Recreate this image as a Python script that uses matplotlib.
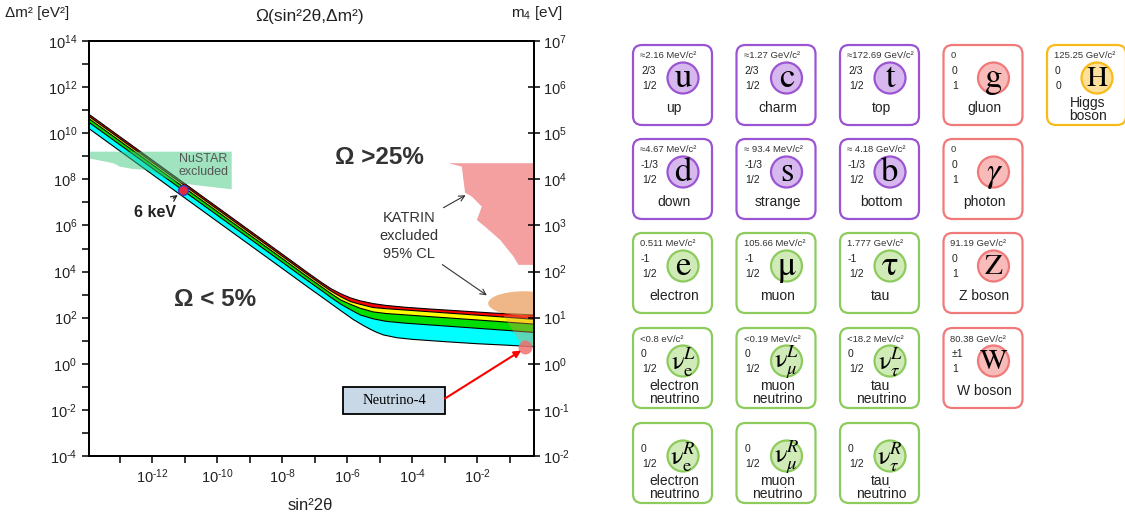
import numpy as np
import matplotlib
matplotlib.use("Agg")
import matplotlib.pyplot as plt
from matplotlib.patches import Polygon, Ellipse, FancyBboxPatch, Circle, Rectangle

plt.rcParams['font.family'] = ['Liberation Sans', 'DejaVu Sans']
plt.rcParams['mathtext.fontset'] = 'custom'
plt.rcParams['mathtext.rm'] = 'Liberation Sans'
plt.rcParams['mathtext.it'] = 'Liberation Sans:italic'
plt.rcParams['mathtext.bf'] = 'Liberation Sans:bold'
plt.rcParams['axes.unicode_minus'] = False

# ---------------------------------------------------------------------------
# Omega contours: log10(sin^2 2theta) vs log10(dm^2 / eV^2)
# ---------------------------------------------------------------------------
omega_x = [-13.94, -10.0, -8.0, -7.2, -6.8, -6.5, -6.2, -5.9, -5.6, -5.2,
           -4.8, -4.2, -3.5, -2.5, -1.5, -0.25]
omega25_y = [10.82, 6.80, 4.76, 3.94, 3.54, 3.26, 3.04, 2.86, 2.73, 2.61,
             2.53, 2.45, 2.38, 2.29, 2.20, 2.12]
omega20_y = [10.73, 6.71, 4.67, 3.85, 3.45, 3.16, 2.91, 2.70, 2.58, 2.44,
             2.39, 2.33, 2.26, 2.16, 2.06, 1.93]
omega15_y = [10.63, 6.61, 4.57, 3.75, 3.35, 3.05, 2.77, 2.58, 2.41, 2.25,
             2.18, 2.12, 2.05, 1.95, 1.85, 1.72]
omega10_y = [10.47, 6.45, 4.41, 3.59, 3.19, 2.88, 2.59, 2.35, 2.12, 1.95,
             1.84, 1.76, 1.69, 1.59, 1.49, 1.36]
omega05_x = [-13.94, -10.0, -8.0, -7.2, -6.83, -6.3, -5.81, -5.5, -5.29, -5.1,
             -4.88, -4.47, -4.0, -3.0, -2.0, -1.0, -0.25]
omega05_y = [10.20, 6.18, 4.14, 3.32, 2.95, 2.41, 1.92, 1.66, 1.50, 1.37,
             1.25, 1.13, 1.06, 0.96, 0.87, 0.80, 0.74]

# NuSTAR excluded region
nustar_x = [-13.94, -9.55, -9.55, -10.12, -11.14, -11.65, -12.17, -12.6,
            -12.99, -13.19, -13.94]
nustar_y = [9.20, 9.20, 7.57, 7.66, 7.83, 8.09, 8.41, 8.45, 8.55, 8.70, 8.91]

# KATRIN excluded region (95% CL)
katrin_x = [-2.88, -0.2, -0.2, -0.73, -0.88, -1.29, -1.70, -2.01, -1.91,
            -1.86, -2.16, -2.37, -2.44, -2.47]
katrin_y = [8.70, 8.70, 4.29, 4.29, 4.65, 5.37, 5.88, 6.24, 6.60, 6.82,
            7.25, 7.42, 8.19, 8.55]

# allowed region near the right edge (ellipse + tail)
allowed_center = (-0.56, 2.62)
allowed_size = (2.2, 1.05)
tail_x = [-1.20, -0.2, -0.2, -0.62]
tail_y = [2.10, 2.10, 0.73, 0.80]

# Neutrino-4 best fit and 6 keV point
nu4_point = (-0.52, 0.72)
kev6_sin = -11.04
kev6_mass_ev = 6000.0

xlog_lim = (-13.94, -0.25)
ylog_lim = (-4, 14)


def lin(v):
    return 10.0 ** np.asarray(v, dtype=float)


def pow10_label(k):
    exp = str(k) if k >= 0 else r'\text{-}%d' % (-k)
    return r'$\mathdefault{10^{%s}}$' % exp


fig = plt.figure(figsize=(11.25, 5.17), dpi=100)
W, H = 1125.0, 517.0
ax = fig.add_axes([89 / W, 61 / H, 445 / W, 415 / H])
ax.set_xscale('log')
ax.set_yscale('log')
ax.set_xlim(lin(xlog_lim[0]), lin(xlog_lim[1]))
ax.set_ylim(lin(ylog_lim[0]), lin(ylog_lim[1]))

contours = [(omega_x, omega25_y), (omega_x, omega20_y), (omega_x, omega15_y),
            (omega_x, omega10_y), (omega05_x, omega05_y)]
band_colors = ['#ff0000', '#ffff00', '#00dd00', '#00ffff']
for i, col in enumerate(band_colors):
    xa, ya = contours[i]
    xb, yb = contours[i + 1]
    px = np.concatenate([lin(xa), lin(xb)[::-1]])
    py = np.concatenate([lin(ya), lin(yb)[::-1]])
    ax.fill(px, py, color=col, lw=0, zorder=2)
for xs, ys in contours:
    ax.plot(lin(xs), lin(ys), color='k', lw=0.8, zorder=3)

ax.add_patch(Polygon(np.column_stack([lin(nustar_x), lin(nustar_y)]),
                     closed=True, facecolor='#40c880', alpha=0.5, lw=0, zorder=4))
ax.add_patch(Polygon(np.column_stack([lin(katrin_x), lin(katrin_y)]),
                     closed=True, facecolor='#f4a0a0', lw=0, zorder=4))

# ellipse drawn in axes fraction so it stays elliptic on log axes
spanx = xlog_lim[1] - xlog_lim[0]
spany = ylog_lim[1] - ylog_lim[0]
ecx = (allowed_center[0] - xlog_lim[0]) / spanx
ecy = (allowed_center[1] - ylog_lim[0]) / spany
ax.add_patch(Ellipse((ecx, ecy), allowed_size[0] / spanx, allowed_size[1] / spany,
                     transform=ax.transAxes, facecolor='#e89650', alpha=0.68,
                     lw=0, zorder=5))
ax.add_patch(Polygon(np.column_stack([lin(tail_x), lin(tail_y)]), closed=True,
                     facecolor='#e89650', alpha=0.4, lw=0, zorder=5))
ax.plot([lin(nu4_point[0])], [lin(nu4_point[1])], 'o', ms=10, color='#f07070',
        alpha=0.85, mec='none', zorder=6)

# 6 keV sterile neutrino
ax.plot([lin(kev6_sin)], [kev6_mass_ev ** 2], 'o', ms=7, mfc='#e8283c',
        mec='#3040c0', mew=1.0, zorder=7)
ax.annotate('', xy=(lin(-11.14), lin(7.39)), xytext=(lin(-11.42), lin(7.11)),
            arrowprops=dict(arrowstyle='->', color='#222222', lw=0.9), zorder=7)
ax.text(lin(-11.91), lin(6.58), '6 keV', ha='center', va='center',
        fontsize=11.5, fontweight='bold', color='#222222', zorder=7)

ax.text(lin(-10.43), lin(8.60), 'NuSTAR\nexcluded', ha='center', va='center',
        fontsize=9, color='#555555', linespacing=1.15, zorder=7)
ax.text(lin(-4.99), lin(8.93), 'Ω >25%', ha='center', va='center',
        fontsize=17.5, fontweight='bold', color='#333333', zorder=7)
ax.text(lin(-10.06), lin(2.77), 'Ω < 5%', ha='center', va='center',
        fontsize=17.5, fontweight='bold', color='#333333', zorder=7)
ax.text(lin(-4.09), lin(5.54), 'KATRIN\nexcluded\n95% CL', ha='center',
        va='center', fontsize=10.5, color='#333333', linespacing=1.35, zorder=7)
ax.annotate('', xy=(lin(-2.28), lin(7.37)), xytext=(lin(-3.11), lin(6.71)),
            arrowprops=dict(arrowstyle='->', color='#333333', lw=0.8), zorder=7)
ax.annotate('', xy=(lin(-1.63), lin(2.90)), xytext=(lin(-3.14), lin(4.37)),
            arrowprops=dict(arrowstyle='->', color='#333333', lw=0.8), zorder=7)

# Neutrino-4 label box
bx0 = (343 - 89) / 445.0
by0 = (456 - 414) / 415.0
ax.add_patch(Rectangle((bx0, by0), 102 / 445.0, 27 / 415.0, transform=ax.transAxes,
                       facecolor='#c8d8e6', edgecolor='k', lw=1.3, zorder=8))
ax.text(bx0 + 51 / 445.0, by0 + 13.5 / 415.0, 'Neutrino-4', transform=ax.transAxes,
        ha='center', va='center', fontsize=10.5, family='Liberation Serif', zorder=9)
ax.annotate('', xy=(lin(nu4_point[0] - 0.05), lin(nu4_point[1] - 0.08)),
            xytext=(lin(-3.06), lin(-1.57)),
            arrowprops=dict(arrowstyle='-|>', color='#ff0000', lw=1.5,
                            mutation_scale=10), zorder=8)

# axes ticks
xt = list(range(-13, 0))
ax.set_xticks(lin(xt))
ax.set_xticklabels([pow10_label(k) if k % 2 == 0 else '' for k in xt])
yt = list(range(-4, 15))
ax.set_yticks(lin(yt))
ax.set_yticklabels([pow10_label(k) if k % 2 == 0 else '' for k in yt])
ax.minorticks_off()
ax.tick_params(axis='both', direction='out', length=5, width=1.1, labelsize=10.5,
               color='k', labelcolor='#222222')
for s in ax.spines.values():
    s.set_linewidth(1.4)

ax2 = ax.twinx()
ax2.set_yscale('log')
ax2.set_ylim(lin(ylog_lim[0] / 2), lin(ylog_lim[1] / 2))
rt = list(range(-2, 8))
ax2.set_yticks(lin(rt))
ax2.set_yticklabels([pow10_label(k) for k in rt])
ax2.minorticks_off()
ax2.tick_params(axis='y', direction='inout', length=9, width=1.1, labelsize=10.5,
                pad=2, labelcolor='#222222')
for s in ax2.spines.values():
    s.set_linewidth(1.4)

fig.text(310 / W, 1 - 16 / H, 'Ω(sin²2θ,Δm²)', ha='center', va='center',
         fontsize=12.5, color='#222222')
fig.text(5 / W, 1 - 13 / H, 'Δm² [eV²]', ha='left', va='center', fontsize=11,
         color='#222222')
fig.text(537 / W, 1 - 13 / H, r'm$_4$ [eV]', ha='center', va='center',
         fontsize=11, color='#222222')
fig.text(310 / W, 1 - 505 / H, 'sin²2θ', ha='center', va='center',
         fontsize=12, color='#222222')

# ---------------------------------------------------------------------------
# Standard-model particle cards
# ---------------------------------------------------------------------------
card_symbols = ['u', 'c', 't', 'g', 'H',
                'd', 's', 'b', 'γ',
                'e', 'μ', 'τ', 'Z',
                r'$\mathrm{\nu}_{\mathrm{e}}^{L}$', r'$\mathrm{\nu}_{\mu}^{L}$',
                r'$\mathrm{\nu}_{\tau}^{L}$', 'W',
                r'$\mathrm{\nu}_{\mathrm{e}}^{R}$', r'$\mathrm{\nu}_{\mu}^{R}$',
                r'$\mathrm{\nu}_{\tau}^{R}$']
card_masses = ['≈2.16 MeV/c²', '≈1.27 GeV/c²', '≈172.69 GeV/c²', '0', '125.25 GeV/c²',
               '≈4.67 MeV/c²', '≈ 93.4 MeV/c²', '≈ 4.18 GeV/c²', '0',
               '0.511 MeV/c²', '105.66 MeV/c²', '1.777 GeV/c²', '91.19 GeV/c²',
               '<0.8 eV/c²', '<0.19 MeV/c²', '<18.2 MeV/c²', '80.38 GeV/c²',
               '', '', '']
card_charges = ['2/3', '2/3', '2/3', '0', '0',
                '-1/3', '-1/3', '-1/3', '0',
                '-1', '-1', '-1', '0',
                '0', '0', '0', '±1',
                '0', '0', '0']
card_spins = ['1/2', '1/2', '1/2', '1', '0',
              '1/2', '1/2', '1/2', '1',
              '1/2', '1/2', '1/2', '1',
              '1/2', '1/2', '1/2', '1',
              '1/2', '1/2', '1/2']
card_names = ['up', 'charm', 'top', 'gluon', 'Higgs\nboson',
              'down', 'strange', 'bottom', 'photon',
              'electron', 'muon', 'tau', 'Z boson',
              'electron\nneutrino', 'muon\nneutrino', 'tau\nneutrino', 'W boson',
              'electron\nneutrino', 'muon\nneutrino', 'tau\nneutrino']
card_groups = ['quark'] * 3 + ['gauge', 'higgs'] + ['quark'] * 3 + ['gauge'] + \
              ['lepton'] * 3 + ['gauge'] + ['lepton'] * 3 + ['gauge'] + ['lepton'] * 3
card_rows = [0, 0, 0, 0, 0, 1, 1, 1, 1, 2, 2, 2, 2, 3, 3, 3, 3, 4, 4, 4]
card_cols = [0, 1, 2, 3, 4, 0, 1, 2, 3, 0, 1, 2, 3, 0, 1, 2, 3, 0, 1, 2]

group_edge = {'quark': '#9b55d2', 'gauge': '#f07a7a', 'higgs': '#f8bb1a',
              'lepton': '#8dcb5d'}
group_fill = {'quark': '#d6b8ee', 'gauge': '#f9baba', 'higgs': '#fde09a',
              'lepton': '#d0eab8'}

col_x0 = [633, 736.5, 840, 943.5, 1047]
row_y0 = [45, 139, 233, 328, 423]
card_w, card_h = 79, 80

axp = fig.add_axes([0, 0, 1, 1])
axp.set_xlim(0, W)
axp.set_ylim(H, 0)
axp.set_axis_off()

for i, sym in enumerate(card_symbols):
    x0 = col_x0[card_cols[i]]
    y0 = row_y0[card_rows[i]]
    grp = card_groups[i]
    axp.add_patch(FancyBboxPatch((x0, y0), card_w, card_h,
                                 boxstyle='round,pad=0,rounding_size=9',
                                 facecolor='white', edgecolor=group_edge[grp],
                                 lw=1.6))
    cx, cy = x0 + 50, y0 + 33
    axp.add_patch(Circle((cx, cy), 15.5, facecolor=group_fill[grp],
                         edgecolor=group_edge[grp], lw=1.6))
    if sym.startswith('$'):
        axp.text(cx, cy + 1, sym, ha='center', va='center', fontsize=19,
                 math_fontfamily='stix')
    else:
        size = 21 if sym.isupper() else 25
        axp.text(cx, cy + 1, sym, ha='center', va='center', fontsize=size,
                 family='STIXGeneral', style='italic' if sym == 'γ' else 'normal')
    if card_masses[i]:
        axp.text(x0 + 7, y0 + 11, card_masses[i], ha='left', va='center',
                 fontsize=6.8, color='#333333')
    axp.text(x0 + 8, y0 + 26, card_charges[i], ha='left', va='center',
             fontsize=7.5, color='#222222')
    axp.text(x0 + 9, y0 + 41, card_spins[i], ha='left', va='center',
             fontsize=7.5, color='#222222')
    name = card_names[i]
    if '\n' in name:
        axp.text(x0 + 41, y0 + 64.5, name, ha='center', va='center',
                 fontsize=10, linespacing=0.95, color='#222222')
    else:
        axp.text(x0 + 41, y0 + 63, name, ha='center', va='center',
                 fontsize=10, color='#222222')

fig.savefig('out.png', dpi=100)
